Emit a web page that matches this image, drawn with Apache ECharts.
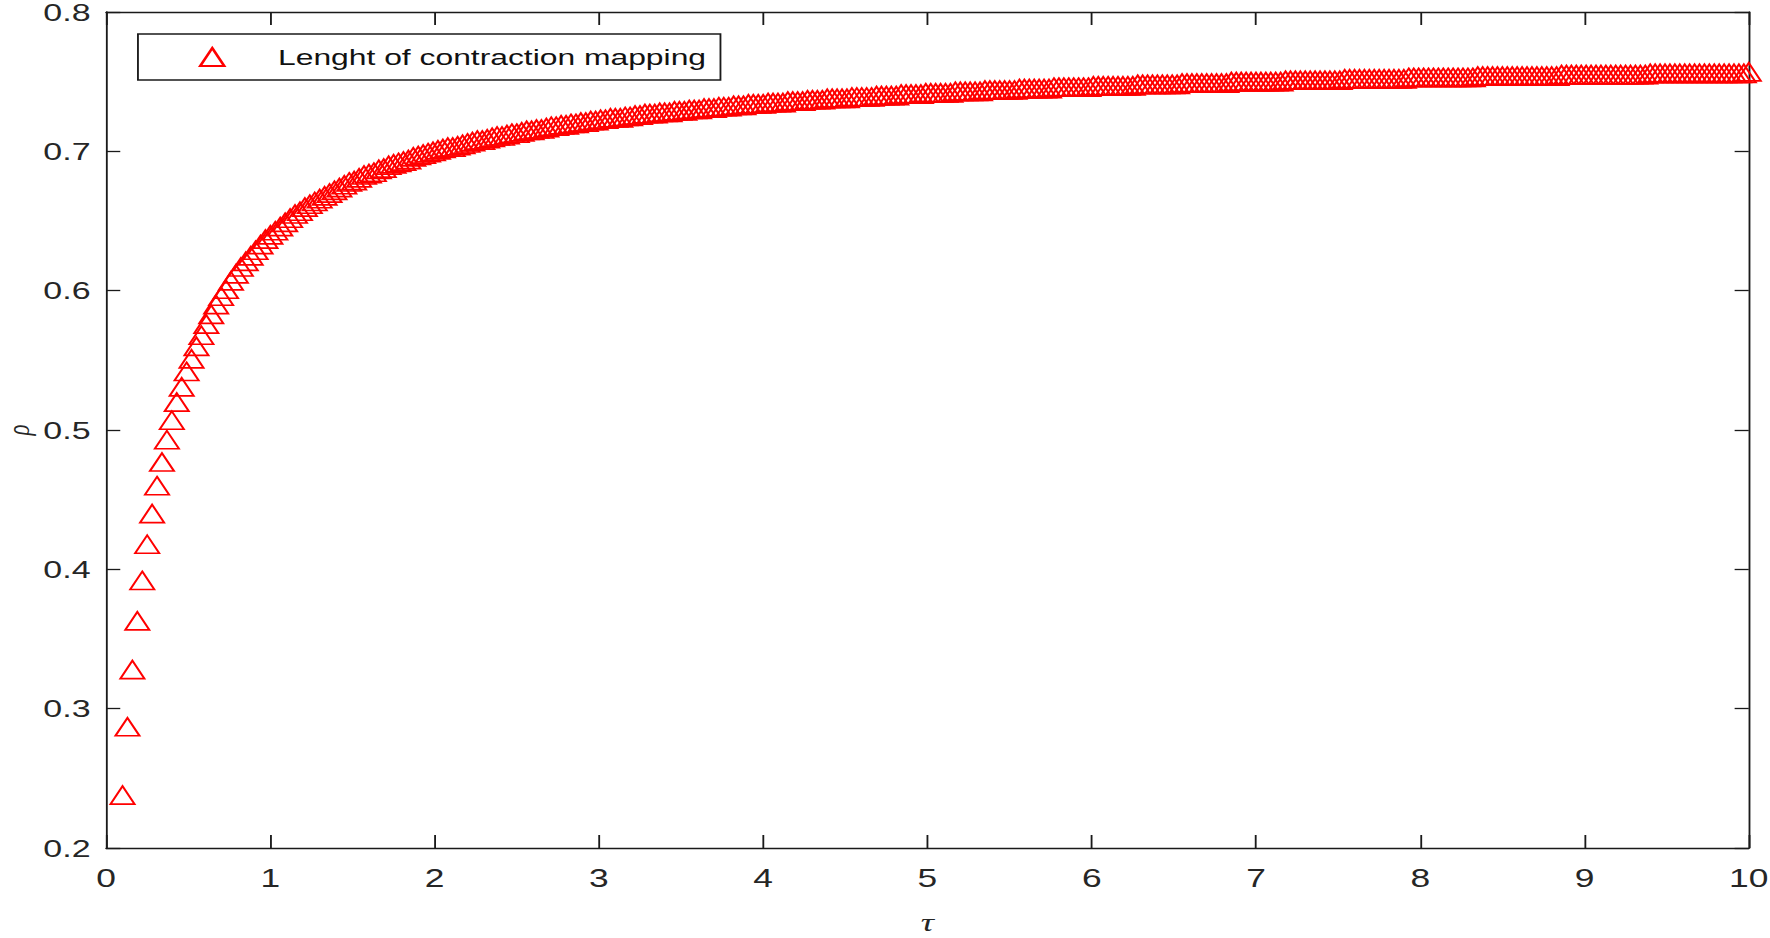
<!DOCTYPE html>
<html>
<head>
<meta charset="utf-8">
<script src="https://cdn.jsdelivr.net/npm/echarts/dist/echarts.min.js"></script>
<style>
html,body{margin:0;padding:0;background:#fff;}
#wrap{width:1770px;height:938px;overflow:hidden;background:#fff;}
#c{width:1251px;height:938px;transform:scaleX(1.41487);transform-origin:0 0;}
</style>
</head>
<body>
<div id="wrap"><div id="c"></div></div>
<script>
// tau values (x)
const tau = [
0.10,0.13,0.16,0.19,0.22,0.25,0.28,0.31,0.34,0.37,
0.40,0.43,0.46,0.49,0.52,0.55,0.58,0.61,0.64,0.67,
0.70,0.73,0.76,0.79,0.82,0.85,0.88,0.91,0.94,0.97,
1.00,1.03,1.06,1.09,1.12,1.15,1.18,1.21,1.24,1.27,
1.30,1.33,1.36,1.39,1.42,1.45,1.48,1.51,1.54,1.57,
1.60,1.63,1.66,1.69,1.72,1.75,1.78,1.81,1.84,1.87,
1.90,1.93,1.96,1.99,2.02,2.05,2.08,2.11,2.14,2.17,
2.20,2.23,2.26,2.29,2.32,2.35,2.38,2.41,2.44,2.47,
2.50,2.53,2.56,2.59,2.62,2.65,2.68,2.71,2.74,2.77,
2.80,2.83,2.86,2.89,2.92,2.95,2.98,3.01,3.04,3.07,
3.10,3.13,3.16,3.19,3.22,3.25,3.28,3.31,3.34,3.37,
3.40,3.43,3.46,3.49,3.52,3.55,3.58,3.61,3.64,3.67,
3.70,3.73,3.76,3.79,3.82,3.85,3.88,3.91,3.94,3.97,
4.00,4.03,4.06,4.09,4.12,4.15,4.18,4.21,4.24,4.27,
4.30,4.33,4.36,4.39,4.42,4.45,4.48,4.51,4.54,4.57,
4.60,4.63,4.66,4.69,4.72,4.75,4.78,4.81,4.84,4.87,
4.90,4.93,4.96,4.99,5.02,5.05,5.08,5.11,5.14,5.17,
5.20,5.23,5.26,5.29,5.32,5.35,5.38,5.41,5.44,5.47,
5.50,5.53,5.56,5.59,5.62,5.65,5.68,5.71,5.74,5.77,
5.80,5.83,5.86,5.89,5.92,5.95,5.98,6.01,6.04,6.07,
6.10,6.13,6.16,6.19,6.22,6.25,6.28,6.31,6.34,6.37,
6.40,6.43,6.46,6.49,6.52,6.55,6.58,6.61,6.64,6.67,
6.70,6.73,6.76,6.79,6.82,6.85,6.88,6.91,6.94,6.97,
7.00,7.03,7.06,7.09,7.12,7.15,7.18,7.21,7.24,7.27,
7.30,7.33,7.36,7.39,7.42,7.45,7.48,7.51,7.54,7.57,
7.60,7.63,7.66,7.69,7.72,7.75,7.78,7.81,7.84,7.87,
7.90,7.93,7.96,7.99,8.02,8.05,8.08,8.11,8.14,8.17,
8.20,8.23,8.26,8.29,8.32,8.35,8.38,8.41,8.44,8.47,
8.50,8.53,8.56,8.59,8.62,8.65,8.68,8.71,8.74,8.77,
8.80,8.83,8.86,8.89,8.92,8.95,8.98,9.01,9.04,9.07,
9.10,9.13,9.16,9.19,9.22,9.25,9.28,9.31,9.34,9.37,
9.40,9.43,9.46,9.49,9.52,9.55,9.58,9.61,9.64,9.67,
9.70,9.73,9.76,9.79,9.82,9.85,9.88,9.91,9.94,9.97,
10.00
];
// rho values (y)
const rho = [
0.238,0.287,0.328,0.363,0.392,0.418,0.440,0.460,0.477,0.493,
0.507,0.520,0.531,0.542,0.551,0.560,0.568,0.576,0.583,0.590,
0.596,0.601,0.607,0.612,0.617,0.621,0.625,0.629,0.633,0.637,
0.640,0.643,0.646,0.649,0.652,0.655,0.657,0.660,0.662,0.664,
0.666,0.668,0.670,0.672,0.674,0.676,0.678,0.679,0.681,0.683,
0.684,0.685,0.687,0.688,0.690,0.691,0.692,0.693,0.694,0.696,
0.697,0.698,0.699,0.700,0.701,0.702,0.703,0.703,0.704,0.705,
0.706,0.707,0.708,0.708,0.709,0.710,0.711,0.711,0.712,0.713,
0.713,0.714,0.715,0.715,0.716,0.716,0.717,0.718,0.718,0.719,
0.719,0.720,0.720,0.721,0.721,0.722,0.722,0.723,0.723,0.724,
0.724,0.724,0.725,0.725,0.726,0.726,0.727,0.727,0.727,0.728,
0.728,0.728,0.729,0.729,0.729,0.730,0.730,0.730,0.731,0.731,
0.731,0.732,0.732,0.732,0.733,0.733,0.733,0.734,0.734,0.734,
0.734,0.735,0.735,0.735,0.735,0.736,0.736,0.736,0.736,0.737,
0.737,0.737,0.737,0.738,0.738,0.738,0.738,0.738,0.739,0.739,
0.739,0.739,0.739,0.740,0.740,0.740,0.740,0.740,0.741,0.741,
0.741,0.741,0.741,0.742,0.742,0.742,0.742,0.742,0.742,0.743,
0.743,0.743,0.743,0.743,0.743,0.744,0.744,0.744,0.744,0.744,
0.744,0.744,0.745,0.745,0.745,0.745,0.745,0.745,0.745,0.746,
0.746,0.746,0.746,0.746,0.746,0.746,0.746,0.747,0.747,0.747,
0.747,0.747,0.747,0.747,0.747,0.747,0.748,0.748,0.748,0.748,
0.748,0.748,0.748,0.748,0.748,0.749,0.749,0.749,0.749,0.749,
0.749,0.749,0.749,0.749,0.749,0.750,0.750,0.750,0.750,0.750,
0.750,0.750,0.750,0.750,0.750,0.750,0.751,0.751,0.751,0.751,
0.751,0.751,0.751,0.751,0.751,0.751,0.751,0.751,0.752,0.752,
0.752,0.752,0.752,0.752,0.752,0.752,0.752,0.752,0.752,0.752,
0.752,0.753,0.753,0.753,0.753,0.753,0.753,0.753,0.753,0.753,
0.753,0.753,0.753,0.753,0.753,0.754,0.754,0.754,0.754,0.754,
0.754,0.754,0.754,0.754,0.754,0.754,0.754,0.754,0.754,0.754,
0.754,0.754,0.755,0.755,0.755,0.755,0.755,0.755,0.755,0.755,
0.755,0.755,0.755,0.755,0.755,0.755,0.755,0.755,0.755,0.755,
0.756,0.756,0.756,0.756,0.756,0.756,0.756,0.756,0.756,0.756,
0.756,0.756,0.756,0.756,0.756,0.756,0.756,0.756,0.756,0.756,
0.757
];
const seriesName = 'Lenght of contraction mapping';
const xName = 'τ';
const yName = 'ρ';

const axisColor = '#1a1a1a';
const labelColor = '#262626';
const data = tau.map((t, i) => [t, rho[i]]);

const chart = echarts.init(document.getElementById('c'), null, {renderer: 'svg'});
const lineStyle = {color: axisColor, width: 1.3};
chart.setOption({
  animation: false,
  backgroundColor: '#fff',
  grid: {left: 75, right: 15, top: 12, bottom: 90, containLabel: false, outerBoundsMode: 'none'},
  legend: {
    show: true, left: 97.5, top: 34, orient: 'horizontal',
    padding: [10, 10, 10, 43], itemWidth: 17, itemHeight: 18,
    backgroundColor: '#fff', borderColor: axisColor, borderWidth: 1.3, borderRadius: 0,
    textStyle: {fontFamily: 'Liberation Sans', fontSize: 22.5, color: '#111', lineHeight: 26, padding: [0, 0, 0, 33]},
    data: [seriesName]
  },
  xAxis: [
    {type: 'value', min: 0, max: 10, interval: 1, position: 'bottom',
     name: xName, nameLocation: 'middle', nameGap: 62, nameMoveOverlap: false,
     nameTextStyle: {fontFamily: 'Liberation Serif', fontStyle: 'italic', fontSize: 26, lineHeight: 24, color: labelColor},
     axisLine: {show: true, onZero: false, lineStyle},
     axisTick: {show: true, inside: true, length: 13, lineStyle},
     axisLabel: {margin: 18, fontSize: 25, fontFamily: 'Liberation Sans', color: labelColor, lineHeight: 25},
     splitLine: {show: false}},
    {type: 'value', min: 0, max: 10, interval: 1, position: 'top',
     axisLine: {show: true, onZero: false, lineStyle},
     axisTick: {show: true, inside: true, length: 13, lineStyle},
     axisLabel: {show: false}, splitLine: {show: false}}
  ],
  yAxis: [
    {type: 'value', min: 0.2, max: 0.8, interval: 0.1, position: 'left',
     name: yName, nameLocation: 'middle', nameGap: 54, nameRotate: 90, nameMoveOverlap: false,
     nameTextStyle: {fontFamily: 'Liberation Serif', fontStyle: 'italic', fontSize: 23, lineHeight: 16, color: labelColor},
     axisLine: {show: true, onZero: false, lineStyle},
     axisTick: {show: true, inside: true, length: 10, lineStyle},
     axisLabel: {margin: 11, fontSize: 24, fontFamily: 'Liberation Sans', color: labelColor,
                 formatter: v => v.toFixed(1)},
     splitLine: {show: false}},
    {type: 'value', min: 0.2, max: 0.8, interval: 0.1, position: 'right',
     axisLine: {show: true, onZero: false, lineStyle},
     axisTick: {show: true, inside: true, length: 10, lineStyle},
     axisLabel: {show: false}, splitLine: {show: false}}
  ],
  series: [{
    name: seriesName, type: 'scatter', xAxisIndex: 0, yAxisIndex: 0,
    data: data, symbol: 'triangle', symbolSize: [17, 18], clip: false,
    itemStyle: {color: 'rgba(255,255,255,0)', borderColor: '#ff0000', borderWidth: 1.6, opacity: 1},
    emphasis: {disabled: true}
  }]
});
</script>
</body>
</html>
